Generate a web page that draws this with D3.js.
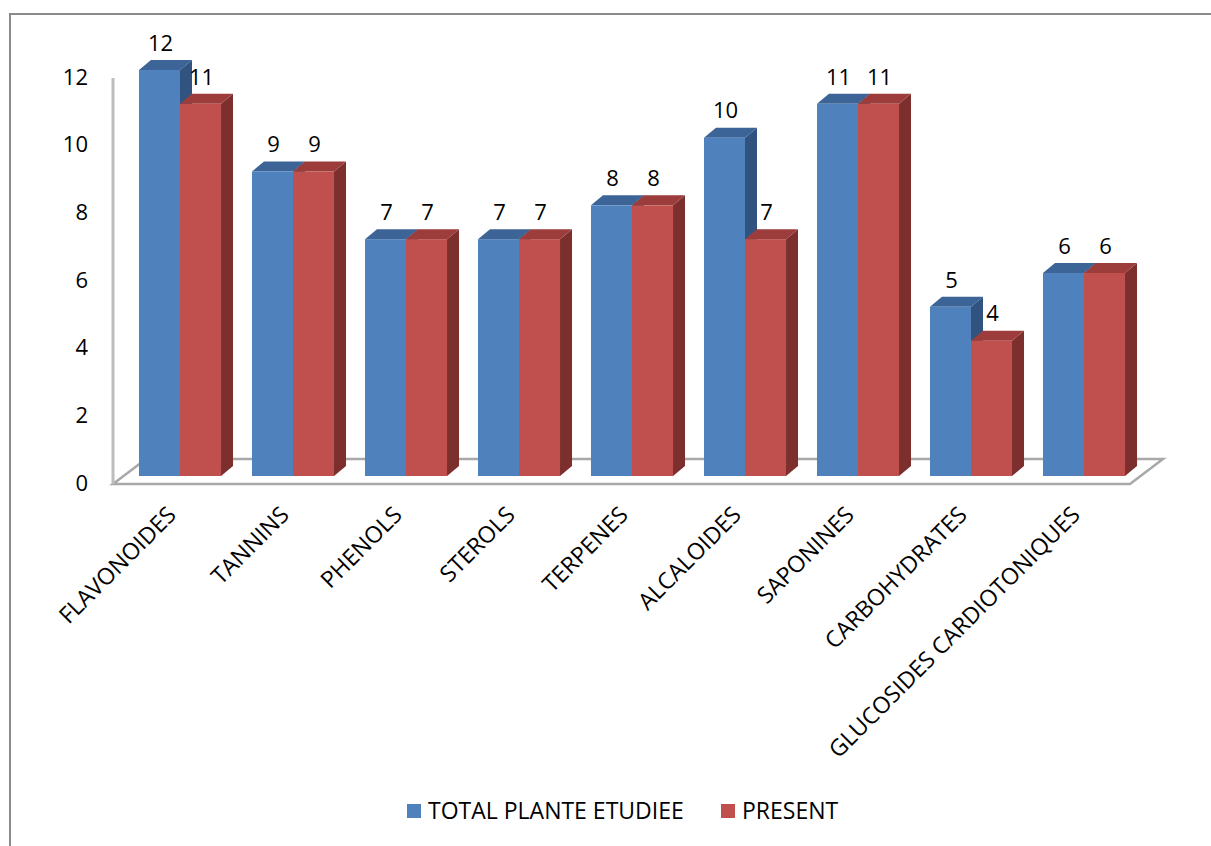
<!DOCTYPE html>
<html>
<head>
<meta charset="utf-8">
<script src="https://cdn.jsdelivr.net/npm/d3@7/dist/d3.min.js"></script>
<style>
  html, body { margin: 0; padding: 0; background: #ffffff; }
  svg { display: block; }
  text { font-family: "Open Sans", "Noto Sans", sans-serif; fill: #000; }
</style>
</head>
<body>
<svg id="chart" width="1211" height="846"></svg>
<script>
// Phytochemical groups screened and how many plants contain each one
const categories = ["FLAVONOIDES", "TANNINS", "PHENOLS", "STEROLS", "TERPENES",
                    "ALCALOIDES", "SAPONINES", "CARBOHYDRATES", "GLUCOSIDES CARDIOTONIQUES"];
const totalValues   = [12, 9, 7, 7, 8, 10, 11, 5, 6];
const presentValues = [11, 9, 7, 7, 8, 7, 11, 4, 6];
const seriesNames = ["TOTAL PLANTE ETUDIEE", "PRESENT"];
const yTicks = [0, 2, 4, 6, 8, 10, 12];

// face colours: front, top, side
const palette = {
  "TOTAL PLANTE ETUDIEE": { front: "#4f81bd", top: "#3c6496", side: "#30547f" },
  "PRESENT":              { front: "#c0504d", top: "#9c3d3b", side: "#7d2f2e" }
};

const svg = d3.select("#chart");

// outer chart frame
svg.append("rect")
  .attr("x", 10).attr("y", 14)
  .attr("width", 1230).attr("height", 900)
  .attr("fill", "none").attr("stroke", "#8a8a8a").attr("stroke-width", 2);

// scales
const x = d3.scaleBand()
  .domain(categories)
  .range([123.5, 1140.5])
  .paddingInner(0.274)
  .paddingOuter(0.137);

const xs = d3.scaleBand()
  .domain(seriesNames)
  .range([0, x.bandwidth()])
  .padding(0);

const y = d3.scaleLinear().domain([0, 12]).range([476, 70]);

// 3-D extrusion offsets
const bdx = 12, bdy = -10;      // bar depth
const fdx = 33, fdy = -25;      // floor depth

// floor plate
const floorFrontY = y(0) + 8;
const floorL = 113, floorR = 1130;
svg.append("path")
  .attr("d", `M${floorL},${floorFrontY} L${floorR},${floorFrontY} L${floorR + fdx},${floorFrontY + fdy} L${floorL + fdx},${floorFrontY + fdy} Z`)
  .attr("fill", "#ffffff")
  .attr("stroke", "#a8a8a8")
  .attr("stroke-width", 2.5)
  .attr("stroke-linejoin", "miter");

// side wall edge
svg.append("line")
  .attr("x1", floorL).attr("x2", floorL)
  .attr("y1", floorFrontY).attr("y2", y(12) + 8)
  .attr("stroke", "#bdbdbd").attr("stroke-width", 3);

// y axis labels
const yAxis = d3.axisLeft(y).tickValues(yTicks).tickSize(0).tickPadding(0);
const gy = svg.append("g")
  .attr("transform", "translate(88,7)")
  .call(yAxis);
gy.select(".domain").remove();
gy.selectAll("text")
  .style("font-family", '"Open Sans", "Noto Sans", sans-serif')
  .style("font-size", "22px")
  .attr("fill", "#000");

// bars
const rows = categories.map((c, i) => ({
  cat: c,
  vals: [
    { s: seriesNames[0], v: totalValues[i] },
    { s: seriesNames[1], v: presentValues[i] }
  ]
}));

const bars = svg.append("g");
rows.forEach(r => {
  r.vals.forEach(d => {
    const x0 = x(r.cat) + xs(d.s);
    const w = xs.bandwidth();
    const yt = y(d.v), yb = y(0);
    const col = palette[d.s];
    const g = bars.append("g");
    // side face
    g.append("path")
      .attr("d", `M${x0 + w},${yt} L${x0 + w + bdx},${yt + bdy} L${x0 + w + bdx},${yb + bdy} L${x0 + w},${yb} Z`)
      .attr("fill", col.side);
    // top face
    g.append("path")
      .attr("d", `M${x0},${yt} L${x0 + bdx},${yt + bdy} L${x0 + w + bdx},${yt + bdy} L${x0 + w},${yt} Z`)
      .attr("fill", col.top);
    // front face
    g.append("rect")
      .attr("x", x0).attr("y", yt)
      .attr("width", w).attr("height", yb - yt)
      .attr("fill", col.front);
  });
});

// value labels
rows.forEach(r => {
  r.vals.forEach(d => {
    svg.append("text")
      .attr("x", x(r.cat) + xs(d.s) + xs.bandwidth() / 2 + 1)
      .attr("y", y(d.v) - 27)
      .attr("dy", "0.35em")
      .attr("text-anchor", "middle")
      .style("font-size", "22px")
      .text(d.v);
  });
});

// category labels, rotated
svg.append("g").selectAll("text")
  .data(categories)
  .join("text")
  .attr("transform", d => `translate(${x(d) + x.bandwidth() / 2 - 14},${505}) rotate(-45)`)
  .attr("text-anchor", "end")
  .attr("dy", "0.7em")
  .style("font-size", "23px")
  .text(d => d);

// legend
const legend = svg.append("g");
const legendItems = [
  { name: seriesNames[0], x: 407 },
  { name: seriesNames[1], x: 721 }
];
legendItems.forEach(it => {
  legend.append("rect")
    .attr("x", it.x).attr("y", 804)
    .attr("width", 14).attr("height", 14)
    .attr("fill", palette[it.name].front);
  legend.append("text")
    .attr("x", it.x + 21).attr("y", 811)
    .attr("dy", "0.36em")
    .style("font-size", "23px")
    .text(it.name);
});
</script>
</body>
</html>
